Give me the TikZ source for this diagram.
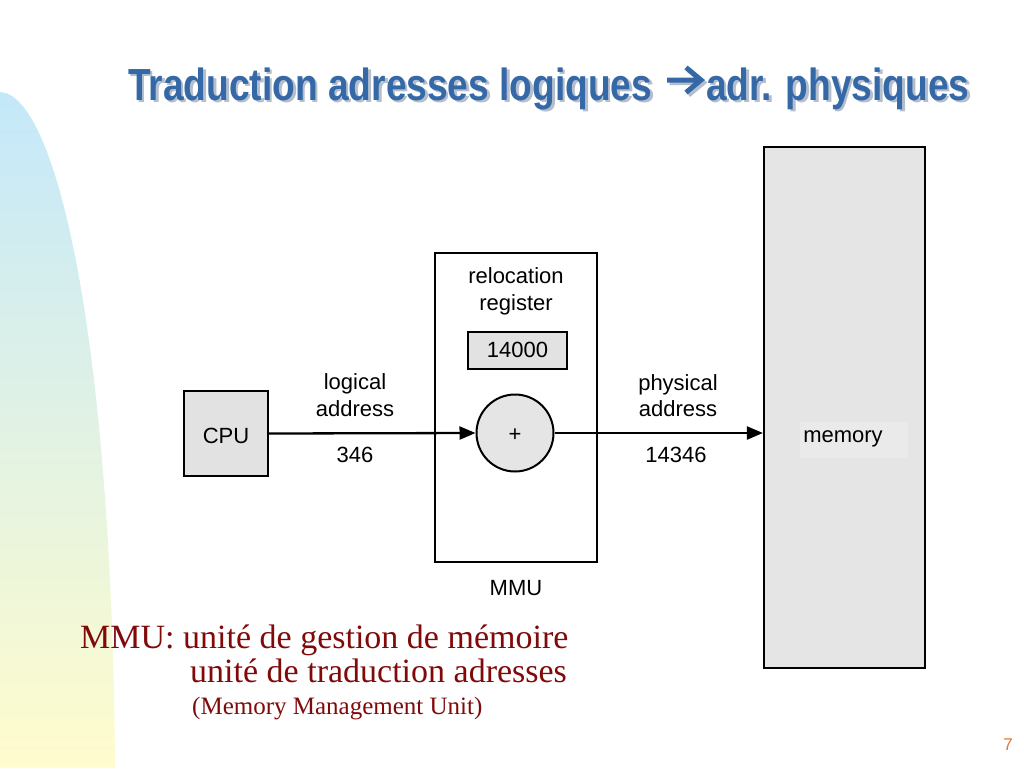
\documentclass[tikz,border=0pt]{standalone}
\usepackage{fontspec}
\setmainfont{Liberation Serif}
\newfontfamily\arialf{Liberation Sans}
\usetikzlibrary{arrows.meta}
\definecolor{titleblue}{RGB}{52,104,166}
\definecolor{titleshadow}{RGB}{180,190,205}
\definecolor{boxgray}{RGB}{226,226,226}
\definecolor{memgray}{RGB}{229,229,229}
\definecolor{memtext}{RGB}{234,234,234}
\definecolor{darkred}{RGB}{128,10,10}
\definecolor{pagenum}{RGB}{225,120,50}
\definecolor{leftblue}{RGB}{196,232,250}
\definecolor{leftyellow}{RGB}{255,252,205}
\begin{document}
\begin{tikzpicture}[x=1pt,y=-1pt,
  box/.style={draw=black, line width=2.2pt, inner sep=0pt},
  lbl/.style={font=\arialf\fontsize{22}{25}\selectfont, anchor=base, inner sep=0pt},
  arr/.style={line width=2.3pt, -{Triangle[length=16pt,width=13pt]}},
  bot/.style={text=darkred, anchor=base west, inner sep=0pt},
  ttl/.style={anchor=base west, inner sep=0pt, xscale=0.825,
    font=\arialf\bfseries\fontsize{45}{50}\selectfont},
  tarrow/.style={line width=5pt, line join=miter}]
\useasboundingbox (0,0) rectangle (1024,768);
\fill[white] (0,0) rectangle (1024,768);
% left decoration
\shade[top color=leftblue, bottom color=leftyellow]
  (0,92) .. controls (55,94) and (112,330) .. (115,768) -- (0,768) -- cycle;
% title shadow
\node[ttl, text=titleshadow] (ts1) at (130.5,102.5) {Traduction adresses logiques};
\node[ttl, text=titleshadow] (ts2) at (708.5,102.5) {adr. physiques};
\draw[tarrow, titleshadow] (669.5,82.5) -- (703,82.5) (688.5,70) -- (703.5,82.5) -- (688.5,95);
% title
\node[ttl, text=titleblue] (t1) at (128,100) {Traduction adresses logiques};
\node[ttl, text=titleblue] (t2) at (706,100) {adr. physiques};
\draw[tarrow, titleblue] (667,80) -- (700.5,80) (686,67.5) -- (701,80) -- (686,92.5);
% boxes
\node[box, fill=memgray, minimum width=161, minimum height=521] (mem) at (844.5,407.5) {};
\node[box, fill=white, minimum width=162, minimum height=309] (mmu) at (516,407.5) {};
\node[box, fill=boxgray, line width=2pt, minimum width=84, minimum height=85] (cpu) at (226,433.5) {};
\node[box, fill=boxgray, line width=2pt, minimum width=99, minimum height=37] (reg) at (517.5,350.5) {};
\node[box, circle, fill=memgray, line width=2pt, minimum size=77] (plus) at (515,433) {};
\node[fill=memtext, minimum width=108, minimum height=36, inner sep=0pt] (memlbl) at (854,439.5) {};
% texts
\node[lbl] (cputxt) at (226,443) {CPU};
\node[lbl] (regtxt) at (517.5,357) {14000};
\node[lbl] (plustxt) at (515,441) {+};
\node[lbl] (rel1) at (516,283) {relocation};
\node[lbl] (rel2) at (516,310) {register};
\node[lbl] (log1) at (355,389) {logical};
\node[lbl] (log2) at (355,416) {address};
\node[lbl] (lognum) at (355,462) {346};
\node[lbl] (phy1) at (678,390) {physical};
\node[lbl] (phy2) at (678,416) {address};
\node[lbl] (phynum) at (676,462) {14346};
\node[lbl] (memtxt) at (843,442) {memory};
\node[lbl] (mmutxt) at (516,595) {MMU};
% connectors
\draw[arr] (cpu.east) -- (plus.west);
\draw[arr] (plus.east) -- (plus.east -| mem.west);
% bottom text
\node[bot, font=\fontsize{34}{38}\selectfont] (b1) at (80,648) {MMU: unité de gestion de mémoire};
\node[bot, font=\fontsize{34}{38}\selectfont] (b2) at (190,682) {unité de traduction adresses};
\node[bot, font=\fontsize{25}{28}\selectfont] (b3) at (192,714) {(Memory Management Unit)};
\node[anchor=base, inner sep=0pt, text=pagenum, font=\arialf\fontsize{17}{20}\selectfont] (pg) at (1008,750) {7};
\end{tikzpicture}
\end{document}
